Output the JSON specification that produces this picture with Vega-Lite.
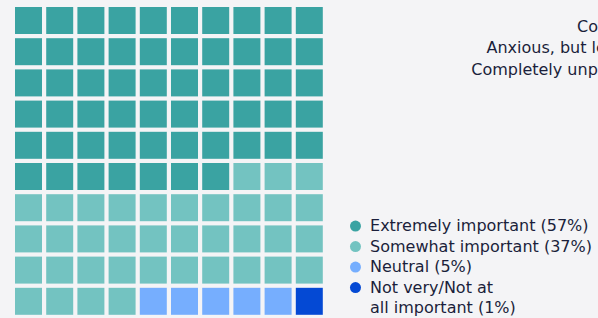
{
  "$schema": "https://vega.github.io/schema/vega-lite/v6.json",
  "width": 598,
  "height": 318,
  "padding": 0,
  "autosize": {"type": "none"},
  "background": "#f4f4f6",
  "config": {"view": {"stroke": null}, "font": "DejaVu Sans"},
  "datasets": {
    "cells": [
      {"r":0,"c":0,"k":"Extremely important (57%)"},{"r":0,"c":1,"k":"Extremely important (57%)"},{"r":0,"c":2,"k":"Extremely important (57%)"},{"r":0,"c":3,"k":"Extremely important (57%)"},{"r":0,"c":4,"k":"Extremely important (57%)"},{"r":0,"c":5,"k":"Extremely important (57%)"},{"r":0,"c":6,"k":"Extremely important (57%)"},{"r":0,"c":7,"k":"Extremely important (57%)"},{"r":0,"c":8,"k":"Extremely important (57%)"},{"r":0,"c":9,"k":"Extremely important (57%)"},
      {"r":1,"c":0,"k":"Extremely important (57%)"},{"r":1,"c":1,"k":"Extremely important (57%)"},{"r":1,"c":2,"k":"Extremely important (57%)"},{"r":1,"c":3,"k":"Extremely important (57%)"},{"r":1,"c":4,"k":"Extremely important (57%)"},{"r":1,"c":5,"k":"Extremely important (57%)"},{"r":1,"c":6,"k":"Extremely important (57%)"},{"r":1,"c":7,"k":"Extremely important (57%)"},{"r":1,"c":8,"k":"Extremely important (57%)"},{"r":1,"c":9,"k":"Extremely important (57%)"},
      {"r":2,"c":0,"k":"Extremely important (57%)"},{"r":2,"c":1,"k":"Extremely important (57%)"},{"r":2,"c":2,"k":"Extremely important (57%)"},{"r":2,"c":3,"k":"Extremely important (57%)"},{"r":2,"c":4,"k":"Extremely important (57%)"},{"r":2,"c":5,"k":"Extremely important (57%)"},{"r":2,"c":6,"k":"Extremely important (57%)"},{"r":2,"c":7,"k":"Extremely important (57%)"},{"r":2,"c":8,"k":"Extremely important (57%)"},{"r":2,"c":9,"k":"Extremely important (57%)"},
      {"r":3,"c":0,"k":"Extremely important (57%)"},{"r":3,"c":1,"k":"Extremely important (57%)"},{"r":3,"c":2,"k":"Extremely important (57%)"},{"r":3,"c":3,"k":"Extremely important (57%)"},{"r":3,"c":4,"k":"Extremely important (57%)"},{"r":3,"c":5,"k":"Extremely important (57%)"},{"r":3,"c":6,"k":"Extremely important (57%)"},{"r":3,"c":7,"k":"Extremely important (57%)"},{"r":3,"c":8,"k":"Extremely important (57%)"},{"r":3,"c":9,"k":"Extremely important (57%)"},
      {"r":4,"c":0,"k":"Extremely important (57%)"},{"r":4,"c":1,"k":"Extremely important (57%)"},{"r":4,"c":2,"k":"Extremely important (57%)"},{"r":4,"c":3,"k":"Extremely important (57%)"},{"r":4,"c":4,"k":"Extremely important (57%)"},{"r":4,"c":5,"k":"Extremely important (57%)"},{"r":4,"c":6,"k":"Extremely important (57%)"},{"r":4,"c":7,"k":"Extremely important (57%)"},{"r":4,"c":8,"k":"Extremely important (57%)"},{"r":4,"c":9,"k":"Extremely important (57%)"},
      {"r":5,"c":0,"k":"Extremely important (57%)"},{"r":5,"c":1,"k":"Extremely important (57%)"},{"r":5,"c":2,"k":"Extremely important (57%)"},{"r":5,"c":3,"k":"Extremely important (57%)"},{"r":5,"c":4,"k":"Extremely important (57%)"},{"r":5,"c":5,"k":"Extremely important (57%)"},{"r":5,"c":6,"k":"Extremely important (57%)"},{"r":5,"c":7,"k":"Somewhat important (37%)"},{"r":5,"c":8,"k":"Somewhat important (37%)"},{"r":5,"c":9,"k":"Somewhat important (37%)"},
      {"r":6,"c":0,"k":"Somewhat important (37%)"},{"r":6,"c":1,"k":"Somewhat important (37%)"},{"r":6,"c":2,"k":"Somewhat important (37%)"},{"r":6,"c":3,"k":"Somewhat important (37%)"},{"r":6,"c":4,"k":"Somewhat important (37%)"},{"r":6,"c":5,"k":"Somewhat important (37%)"},{"r":6,"c":6,"k":"Somewhat important (37%)"},{"r":6,"c":7,"k":"Somewhat important (37%)"},{"r":6,"c":8,"k":"Somewhat important (37%)"},{"r":6,"c":9,"k":"Somewhat important (37%)"},
      {"r":7,"c":0,"k":"Somewhat important (37%)"},{"r":7,"c":1,"k":"Somewhat important (37%)"},{"r":7,"c":2,"k":"Somewhat important (37%)"},{"r":7,"c":3,"k":"Somewhat important (37%)"},{"r":7,"c":4,"k":"Somewhat important (37%)"},{"r":7,"c":5,"k":"Somewhat important (37%)"},{"r":7,"c":6,"k":"Somewhat important (37%)"},{"r":7,"c":7,"k":"Somewhat important (37%)"},{"r":7,"c":8,"k":"Somewhat important (37%)"},{"r":7,"c":9,"k":"Somewhat important (37%)"},
      {"r":8,"c":0,"k":"Somewhat important (37%)"},{"r":8,"c":1,"k":"Somewhat important (37%)"},{"r":8,"c":2,"k":"Somewhat important (37%)"},{"r":8,"c":3,"k":"Somewhat important (37%)"},{"r":8,"c":4,"k":"Somewhat important (37%)"},{"r":8,"c":5,"k":"Somewhat important (37%)"},{"r":8,"c":6,"k":"Somewhat important (37%)"},{"r":8,"c":7,"k":"Somewhat important (37%)"},{"r":8,"c":8,"k":"Somewhat important (37%)"},{"r":8,"c":9,"k":"Somewhat important (37%)"},
      {"r":9,"c":0,"k":"Somewhat important (37%)"},{"r":9,"c":1,"k":"Somewhat important (37%)"},{"r":9,"c":2,"k":"Somewhat important (37%)"},{"r":9,"c":3,"k":"Somewhat important (37%)"},{"r":9,"c":4,"k":"Neutral (5%)"},{"r":9,"c":5,"k":"Neutral (5%)"},{"r":9,"c":6,"k":"Neutral (5%)"},{"r":9,"c":7,"k":"Neutral (5%)"},{"r":9,"c":8,"k":"Neutral (5%)"},{"r":9,"c":9,"k":"Not very/Not at all important (1%)"}
    ],
    "legendDots": [
      {"k":"Extremely important (57%)","lx":10.48,"ly":6.587},
      {"k":"Somewhat important (37%)","lx":10.48,"ly":7.244},
      {"k":"Neutral (5%)","lx":10.48,"ly":7.901},
      {"k":"Not very/Not at all important (1%)","lx":10.48,"ly":8.558}
    ],
    "legendText": [
      {"t":"Extremely important (57%)","lx":10.946,"ly":6.587},
      {"t":"Somewhat important (37%)","lx":10.946,"ly":7.244},
      {"t":"Neutral (5%)","lx":10.946,"ly":7.901},
      {"t":"Not very/Not at","lx":10.946,"ly":8.558},
      {"t":"all important (1%)","lx":10.946,"ly":9.215}
    ],
    "notes": [
      {"t":"Confident","nx":18.827,"ny":0.208},
      {"t":"Anxious, but learning to prepare","nx":18.827,"ny":0.897},
      {"t":"Completely unprepared and worried","nx":18.827,"ny":1.571}
    ]
  },
  "layer": [
    {
      "data": {"name": "cells"},
      "mark": {"type": "point", "shape": "square", "filled": true, "opacity": 1, "size": 729, "strokeWidth": 0},
      "encoding": {
        "x": {"field": "c", "type": "quantitative", "scale": {"domain": [-0.9135, 18.2532], "nice": false, "zero": false}, "axis": null},
        "y": {"field": "r", "type": "quantitative", "scale": {"domain": [-0.657, 9.535], "nice": false, "zero": false, "reverse": true}, "axis": null},
        "color": {"field": "k", "type": "nominal", "legend": null,
          "scale": {"domain": ["Extremely important (57%)", "Somewhat important (37%)", "Neutral (5%)", "Not very/Not at all important (1%)"],
                    "range": ["#3aa3a2", "#73c3c1", "#76aefe", "#0449d4"]}}
      }
    },
    {
      "data": {"name": "legendDots"},
      "mark": {"type": "point", "shape": "circle", "filled": true, "opacity": 1, "size": 121, "strokeWidth": 0},
      "encoding": {
        "x": {"field": "lx", "type": "quantitative"},
        "y": {"field": "ly", "type": "quantitative"},
        "color": {"field": "k", "type": "nominal", "legend": null}
      }
    },
    {
      "data": {"name": "legendText"},
      "mark": {"type": "text", "align": "left", "baseline": "middle", "fontSize": 16, "color": "#1b1f3b"},
      "encoding": {
        "x": {"field": "lx", "type": "quantitative"},
        "y": {"field": "ly", "type": "quantitative"},
        "text": {"field": "t"}
      }
    },
    {
      "data": {"name": "notes"},
      "mark": {"type": "text", "align": "center", "baseline": "middle", "fontSize": 16, "color": "#1b1f3b", "clip": false},
      "encoding": {
        "x": {"field": "nx", "type": "quantitative"},
        "y": {"field": "ny", "type": "quantitative"},
        "text": {"field": "t"}
      }
    }
  ]
}
